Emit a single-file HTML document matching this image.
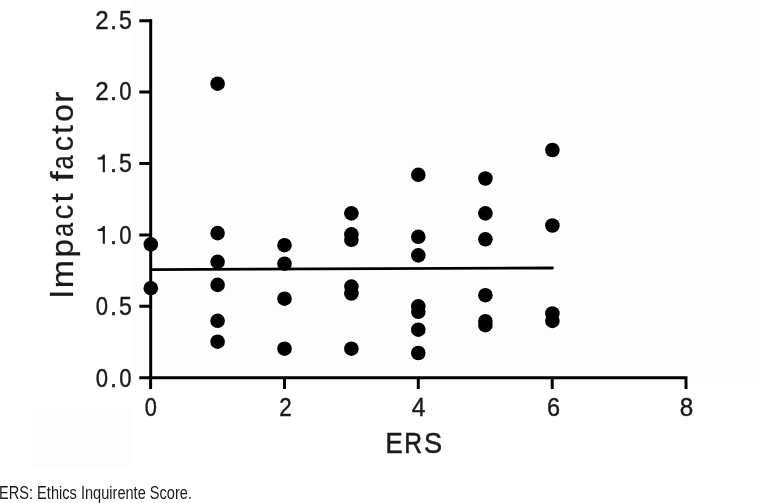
<!DOCTYPE html>
<html><head><meta charset="utf-8">
<style>
html,body{margin:0;padding:0;background:#fff;width:768px;height:503px;overflow:hidden}
svg{display:block;will-change:transform}
text{font-family:"Liberation Sans",sans-serif;fill:#1a1a1a}
.b text{stroke:#1a1a1a;stroke-width:0.4px}
.c text{stroke-width:0.25px}
.e text{stroke-width:0.55px}
</style></head><body>
<svg width="768" height="503" viewBox="0 0 768 503">
<rect x="132" y="0" width="628" height="385" fill="#fdfdfd"/>
<rect x="32" y="408" width="99" height="59" fill="#fdfdfd"/>
<g stroke="#000" stroke-width="3" fill="none" stroke-linecap="butt">
<path d="M150.7 19.3 V377.7 H686 V389"/>
<path d="M139.3 20.7 H151 M139.3 92.1 H151 M139.3 163.5 H151 M139.3 234.9 H151 M139.3 306.3 H151 M139.3 377.7 H151"/>
<path d="M150.6 377 V389 M284.5 377 V389 M418.3 377 V389 M552.2 377 V389"/>
</g>
<path d="M151 269.6 L552.5 268" stroke="#000" stroke-width="2.8" stroke-linecap="round" fill="none"/>
<g fill="#000">
<circle cx="150.8" cy="244.4" r="7.3"/>
<circle cx="150.8" cy="288.2" r="7.3"/>
<circle cx="217.6" cy="83.7" r="7.3"/>
<circle cx="217.6" cy="233.1" r="7.3"/>
<circle cx="217.6" cy="261.8" r="7.3"/>
<circle cx="217.6" cy="284.9" r="7.3"/>
<circle cx="217.6" cy="320.8" r="7.3"/>
<circle cx="217.6" cy="341.7" r="7.3"/>
<circle cx="284.5" cy="245.2" r="7.3"/>
<circle cx="284.5" cy="263.7" r="7.3"/>
<circle cx="284.5" cy="298.7" r="7.3"/>
<circle cx="284.5" cy="348.7" r="7.3"/>
<circle cx="351.4" cy="213.4" r="7.3"/>
<circle cx="351.4" cy="234.4" r="7.3"/>
<circle cx="351.4" cy="239.8" r="7.3"/>
<circle cx="351.4" cy="286.6" r="7.3"/>
<circle cx="351.4" cy="293.5" r="7.3"/>
<circle cx="351.4" cy="348.7" r="7.3"/>
<circle cx="418.3" cy="174.8" r="7.3"/>
<circle cx="418.3" cy="236.8" r="7.3"/>
<circle cx="418.3" cy="255.4" r="7.3"/>
<circle cx="418.3" cy="306.3" r="7.3"/>
<circle cx="418.3" cy="311.8" r="7.3"/>
<circle cx="418.3" cy="329.7" r="7.3"/>
<circle cx="418.3" cy="353" r="7.3"/>
<circle cx="485.4" cy="178.5" r="7.3"/>
<circle cx="485.4" cy="213.4" r="7.3"/>
<circle cx="485.4" cy="239.3" r="7.3"/>
<circle cx="485.4" cy="295.2" r="7.3"/>
<circle cx="485.4" cy="321.2" r="7.3"/>
<circle cx="485.4" cy="325.2" r="7.3"/>
<circle cx="552.4" cy="150" r="7.3"/>
<circle cx="552.4" cy="225.5" r="7.3"/>
<circle cx="552.4" cy="313.5" r="7.3"/>
<circle cx="552.4" cy="320.9" r="7.3"/>
</g>
<g class="b" font-size="25.5" fill="#1a1a1a"><text transform="translate(95.24,28.75) scale(0.946,1)">2</text>
<text x="109.93" y="28.75">.</text>
<text transform="translate(119.12,28.75) scale(0.909,1)">5</text>
<text transform="translate(95.24,100.35) scale(0.946,1)">2</text>
<text x="109.93" y="100.35">.</text>
<text transform="translate(119.32,100.35) scale(0.866,1)">0</text>
<path d="M104.9 172.25 V154.45 H103.0 C102.5 156.35 100.6 157.45 97.7 157.55 V159.45 H102.75 V172.25 Z"/>
<text x="109.93" y="171.95">.</text>
<text transform="translate(119.12,171.95) scale(0.909,1)">5</text>
<path d="M104.9 243.85 V226.05 H103.0 C102.5 227.95 100.6 229.05 97.7 229.15 V231.05 H102.75 V243.85 Z"/>
<text x="109.93" y="243.55">.</text>
<text transform="translate(119.32,243.55) scale(0.866,1)">0</text>
<text transform="translate(95.82,315.15) scale(0.866,1)">0</text>
<text x="109.93" y="315.15">.</text>
<text transform="translate(119.12,315.15) scale(0.909,1)">5</text>
<text transform="translate(95.82,386.75) scale(0.866,1)">0</text>
<text x="109.93" y="386.75">.</text>
<text transform="translate(119.32,386.75) scale(0.866,1)">0</text>
<text transform="translate(144.68,415.60) scale(0.858,1)">0</text>
<text transform="translate(279.23,415.60) scale(0.878,1)">2</text>
<text transform="translate(411.81,415.60) scale(0.969,1)">4</text>
<text transform="translate(546.93,415.60) scale(0.921,1)">6</text>
<text transform="translate(679.63,415.60) scale(0.951,1)">8</text></g>
<g class="b e" font-size="30.2"><text transform="translate(385.45,453.1) scale(0.856,1)">E</text><text transform="translate(404.24,453.1) scale(0.817,1)">R</text><text transform="translate(424.04,453.1) scale(0.900,1)">S</text></g>
<g class="b c" font-size="32"><text transform="translate(73,298.80) rotate(-90) scale(1,1.06)">I</text><text transform="translate(73,288.29) rotate(-90) scale(1.061,1)">m</text><text transform="translate(73,257.48) rotate(-90) scale(1.041,1)">p</text><text transform="translate(73,237.05) rotate(-90) scale(0.800,1)">a</text><text transform="translate(73,219.45) rotate(-90) scale(0.916,1)">c</text><text transform="translate(73,202.42) rotate(-90) scale(1.042,1)">t</text><text transform="translate(73,181.61) rotate(-90) scale(1.150,1)">f</text><text transform="translate(73,169.45) rotate(-90) scale(0.800,1)">a</text><text transform="translate(73,151.19) rotate(-90) scale(0.953,1)">c</text><text transform="translate(73,134.11) rotate(-90) scale(1.018,1)">t</text><text transform="translate(73,121.64) rotate(-90) scale(0.990,1)">o</text><text transform="translate(73,102.85) rotate(-90) scale(1.045,1)">r</text></g>
<text x="-1" y="498.8" font-size="18.8" fill="#444" textLength="193" lengthAdjust="spacingAndGlyphs">ERS: Ethics Inquirente Score.</text>
</svg>
</body></html>
